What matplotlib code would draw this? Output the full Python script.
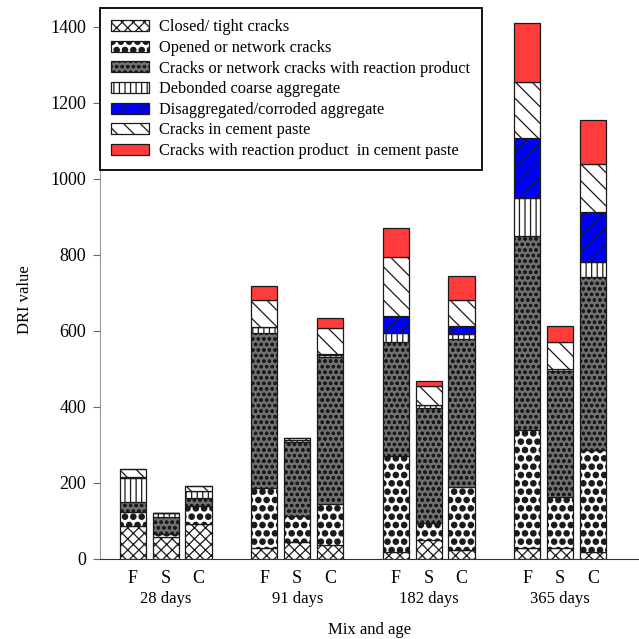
import numpy as np
import matplotlib
matplotlib.use("Agg")
import matplotlib.pyplot as plt
import matplotlib.hatch

plt.rcParams['font.family'] = ['Liberation Serif', 'DejaVu Serif']
plt.rcParams['hatch.linewidth'] = 0.9
plt.rcParams['hatch.color'] = '#1a1a1a'
# bigger filled dots for the "opened cracks" pattern
matplotlib.hatch.SmallFilledCircles.size = 0.32

groups = ['28 days', '91 days', '182 days', '365 days']
mixes = ['F', 'S', 'C']

# values per bar: F28 S28 C28 | F91 S91 C91 | F182 S182 C182 | F365 S365 C365
closed = [87, 59, 91, 28, 46, 37, 19, 50, 24, 28, 30, 18]
opened = [36, 6, 48, 158, 68, 108, 253, 44, 165, 311, 132, 269]
reaction = [28, 46, 21, 408, 195, 386, 300, 303, 389, 512, 333, 456]
debonded = [63, 11, 19, 17, 4, 5, 24, 8, 13, 100, 4, 39]
disagg = [3, 0, 0, 0, 0, 3, 43, 0, 22, 158, 0, 130]
paste = [21, 0, 13, 71, 6, 70, 157, 50, 69, 145, 73, 127]
paste_rp = [0, 0, 0, 36, 0, 24, 74, 13, 64, 156, 41, 116]

series = [
    (closed, 'Closed/ tight cracks', 'white', 'xxx'),
    (opened, 'Opened or network cracks', 'white', '..'),
    (reaction, 'Cracks or network cracks with reaction product', '#707070', 'ooo'),
    (debonded, 'Debonded coarse aggregate', 'white', '|||'),
    (disagg, 'Disaggregated/corroded aggregate', '#0000ff', '//'),
    (paste, 'Cracks in cement paste', 'white', '\\\\'),
    (paste_rp, 'Cracks with reaction product  in cement paste', '#ff3b3b', ''),
]

pos = []
for g in range(len(groups)):
    for m in range(len(mixes)):
        pos.append(g * 4 + (m - 1))
pos = np.array(pos)

fig = plt.figure(figsize=(6.39, 6.39), dpi=100)
ax = fig.add_axes([0.1565, 0.1252, 0.8435, 0.8623])

bottom = np.zeros(len(pos))
for vals, name, fc, hatch in series:
    vals = np.array(vals, dtype=float)
    ax.bar(pos, vals, 0.8, bottom=bottom, color=fc, edgecolor='#1a1a1a',
           linewidth=0.9, hatch=hatch, label=name)
    bottom += vals

ax.set_xlim(-2.0, 14.4)
ax.set_ylim(0, 1450)
ax.set_yticks(np.arange(0, 1401, 200))
ax.set_xticks(pos)
ax.set_xticklabels(mixes * len(groups))

for sp in ['top', 'right']:
    ax.spines[sp].set_visible(False)
ax.spines['left'].set_color('#999999')
ax.spines['bottom'].set_color('#333333')

ax.tick_params(axis='y', direction='out', length=5, color='#666666', labelsize=13, pad=5)
ax.tick_params(axis='x', length=0, labelsize=13, pad=8)

for g, name in enumerate(groups):
    ax.annotate(name, xy=(g * 4, 0), xycoords=('data', 'axes fraction'),
                xytext=(0, -29), textcoords='offset points',
                ha='center', va='center', fontsize=12)

ax.set_xlabel('Mix and age', fontsize=12, labelpad=25)
ax.set_ylabel('DRI value', fontsize=12)
ax.yaxis.set_label_coords(-0.125, 0.47)

leg = ax.legend(loc='upper left', bbox_to_anchor=(0, 1.0), borderaxespad=0,
                fontsize=11.8, frameon=True, fancybox=False, framealpha=1,
                edgecolor='black', handlelength=2.3, handleheight=0.65,
                handletextpad=0.6, labelspacing=0.28, borderpad=0.7)
leg.get_frame().set_linewidth(1.3)

fig.savefig('out.png', dpi=100)
